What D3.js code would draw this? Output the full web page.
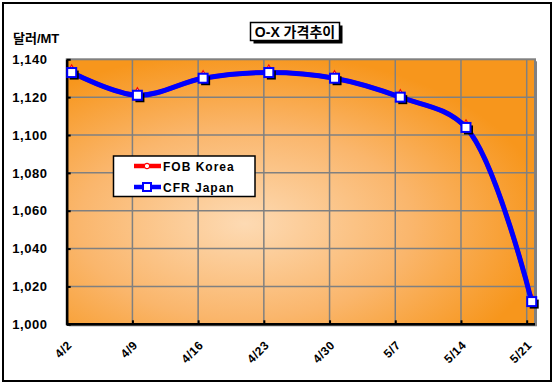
<!DOCTYPE html>
<html>
<head>
<meta charset="utf-8">
<script src="https://cdnjs.cloudflare.com/ajax/libs/d3/7.8.5/d3.min.js"></script>
<style>
  body { margin: 0; background: #fff; }
  text { font-family: "Liberation Sans", Arial, "Noto Sans CJK KR", sans-serif; font-weight: bold; }
</style>
</head>
<body>
<div id="chart"></div>
<script>
var categories = ["4/2", "4/9", "4/16", "4/23", "4/30", "5/7", "5/14", "5/21"];
var fobKorea = [1133, 1121, 1130, 1133, 1130, 1120, 1104, 1012];
var cfrJapan = [1133, 1121, 1130, 1133, 1130, 1120, 1104, 1012];
var yTicks = [1000, 1020, 1040, 1060, 1080, 1100, 1120, 1140];
var seriesNames = ["FOB Korea", "CFR Japan"];

var w = 553, h = 386;
var plot = {left: 66.7, top: 59.3, right: 535, bottom: 324.3};

var svg = d3.select("#chart").append("svg")
  .attr("width", w)
  .attr("height", h);

// outer frame
svg.append("rect")
  .attr("x", 3).attr("y", 3)
  .attr("width", 548).attr("height", 378)
  .attr("fill", "#fff")
  .attr("stroke", "#000")
  .attr("stroke-width", 2);

var defs = svg.append("defs");
var grad = defs.append("radialGradient")
  .attr("id", "bg")
  .attr("cx", "0.38").attr("cy", "0.62")
  .attr("r", "0.65");
grad.append("stop").attr("offset", "0%").attr("stop-color", "#fddab3");
grad.append("stop").attr("offset", "55%").attr("stop-color", "#fab66c");
grad.append("stop").attr("offset", "100%").attr("stop-color", "#f7961c");

var x = d3.scalePoint()
  .domain(categories)
  .range([plot.left, 526.7]);
// points sit a few px right of the gridlines, as in the original
var xp = function (c) { return x(c) + 5; };
var y = d3.scaleLinear()
  .domain([1000, 1140])
  .range([plot.bottom, plot.top]);

// plot area shadow + fill
svg.append("rect")
  .attr("x", plot.left + 2).attr("y", plot.top + 2)
  .attr("width", plot.right - plot.left).attr("height", plot.bottom - plot.top)
  .attr("fill", "#808080");
svg.append("rect")
  .attr("x", plot.left).attr("y", plot.top)
  .attr("width", plot.right - plot.left).attr("height", plot.bottom - plot.top)
  .attr("fill", "url(#bg)")
  .attr("stroke", "#808080")
  .attr("stroke-width", 2);

// gridlines
svg.append("g").selectAll("line")
  .data(yTicks.slice(1, -1)).enter().append("line")
  .attr("x1", plot.left).attr("x2", plot.right)
  .attr("y1", d => y(d)).attr("y2", d => y(d))
  .attr("stroke", "#808080").attr("stroke-width", 1.5);
svg.append("g").selectAll("line")
  .data(categories.slice(1)).enter().append("line")
  .attr("x1", d => x(d)).attr("x2", d => x(d))
  .attr("y1", plot.top).attr("y2", plot.bottom)
  .attr("stroke", "#808080").attr("stroke-width", 1.5);

// axes
var yAxis = svg.append("g")
  .attr("transform", "translate(" + plot.left + ",0)")
  .call(d3.axisLeft(y).tickValues(yTicks).tickSizeInner(-4).tickSizeOuter(0)
    .tickFormat(d3.format(",")).tickPadding(19));
yAxis.select(".domain").attr("stroke", "#000").attr("stroke-width", 2.5);
yAxis.selectAll(".tick line").attr("stroke", "#000").attr("stroke-width", 2);
yAxis.selectAll(".tick text")
  .attr("font-size", 13).attr("letter-spacing", 0.6).attr("fill", "#000")
  .attr("font-family", "'Liberation Sans', Arial, sans-serif");

var xAxis = svg.append("g")
  .attr("transform", "translate(0," + plot.bottom + ")")
  .call(d3.axisBottom(x).tickSizeInner(-4).tickSizeOuter(0).tickFormat(""));
xAxis.select(".domain").attr("stroke", "#000").attr("stroke-width", 2.5)
  .attr("d", "M" + plot.left + ",0H" + plot.right);
xAxis.selectAll(".tick line").attr("stroke", "#000").attr("stroke-width", 2);

svg.append("g").selectAll("text")
  .data(categories).enter().append("text")
  .attr("transform", d => "translate(" + (xp(d) + 1) + ",346) rotate(-45)")
  .attr("text-anchor", "end")
  .attr("font-size", 12)
  .attr("letter-spacing", 0.5)
  .text(d => d);

// series
var line = d3.line()
  .x((d, i) => xp(categories[i]))
  .y(d => y(d))
  .curve(d3.curveCatmullRom.alpha(0.5));

svg.append("path")
  .datum(fobKorea)
  .attr("d", line)
  .attr("fill", "none").attr("stroke", "#ff0000").attr("stroke-width", 4.5);
svg.append("g").selectAll("path")
  .data(fobKorea).enter().append("path")
  .attr("d", d3.symbol(d3.symbolDiamond, 42))
  .attr("transform", (d, i) => "translate(" + xp(categories[i]) + "," + (y(d) - 1.5) + ")")
  .attr("fill", "#fff").attr("stroke", "#ff0000").attr("stroke-width", 1.2);

svg.append("path")
  .datum(cfrJapan)
  .attr("d", line)
  .attr("fill", "none").attr("stroke", "#0000ff").attr("stroke-width", 5);
svg.append("g").selectAll("rect")
  .data(cfrJapan).enter().append("rect")
  .attr("x", (d, i) => xp(categories[i]) - 2)
  .attr("y", d => y(d) - 2)
  .attr("width", 9).attr("height", 9)
  .attr("fill", "#000");
svg.append("g").selectAll("rect")
  .data(cfrJapan).enter().append("rect")
  .attr("x", (d, i) => xp(categories[i]) - 4.5)
  .attr("y", d => y(d) - 4.5)
  .attr("width", 9).attr("height", 9)
  .attr("fill", "#fff").attr("stroke", "#0000ff").attr("stroke-width", 2);

// legend
var lg = svg.append("g");
lg.append("rect")
  .attr("x", 113.5).attr("y", 156)
  .attr("width", 141.5).attr("height", 40.5)
  .attr("fill", "#fff").attr("stroke", "#000").attr("stroke-width", 1.5);
var legendColors = ["#ff0000", "#0000ff"];
seriesNames.forEach(function (name, i) {
  var ly = 166 + i * 21;
  lg.append("line")
    .attr("x1", 134).attr("x2", 161).attr("y1", ly).attr("y2", ly)
    .attr("stroke", legendColors[i]).attr("stroke-width", 4.5);
  if (i === 0) {
    lg.append("path")
      .attr("d", d3.symbol(d3.symbolCircle, 22))
      .attr("transform", "translate(147," + ly + ")")
      .attr("fill", "#fff").attr("stroke", "#ff0000").attr("stroke-width", 1.2);
  } else {
    lg.append("rect")
      .attr("x", 143).attr("y", ly - 4)
      .attr("width", 8).attr("height", 8)
      .attr("fill", "#fff").attr("stroke", "#0000ff").attr("stroke-width", 2);
  }
  lg.append("text")
    .attr("x", 163).attr("y", ly + 4.5)
    .attr("font-size", 12).attr("letter-spacing", 1)
    .text(name);
});

// title
svg.append("rect")
  .attr("x", 253.5).attr("y", 25.5).attr("width", 89).attr("height", 18)
  .attr("fill", "#000");
svg.append("rect")
  .attr("x", 250.5).attr("y", 22.5).attr("width", 89).attr("height", 18)
  .attr("fill", "#fff").attr("stroke", "#000").attr("stroke-width", 1.5);
svg.append("text")
  .attr("x", 295).attr("y", 36.5)
  .attr("text-anchor", "middle")
  .attr("font-size", 14)
  .text("O-X 가격추이");

// y axis title
svg.append("text")
  .attr("x", 13).attr("y", 42.5)
  .attr("font-size", 13)
  .text("달러/MT");
</script>
</body>
</html>
